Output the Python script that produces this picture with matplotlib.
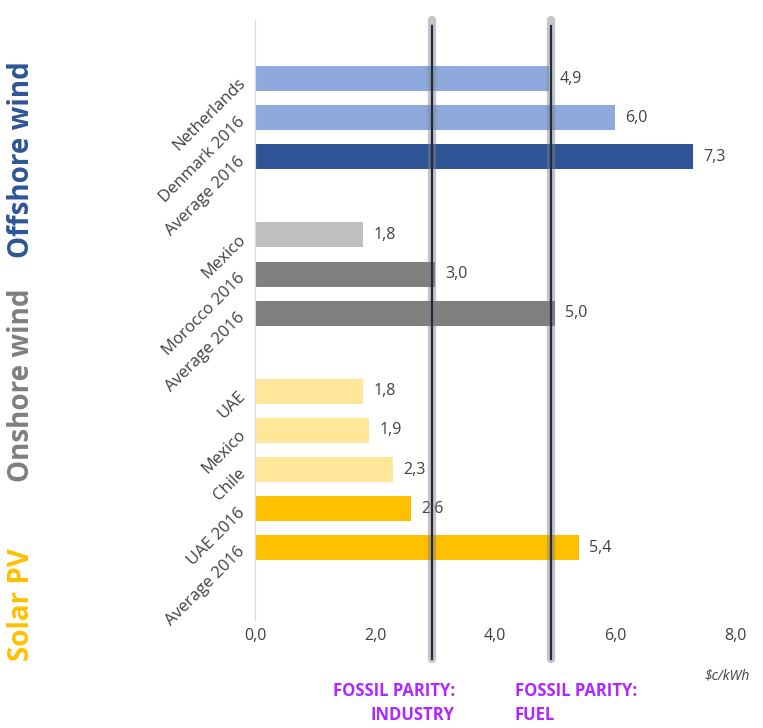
import numpy as np
import matplotlib; matplotlib.use("Agg")
import matplotlib.pyplot as plt
import matplotlib.transforms as mtransforms

plt.rcParams['font.family'] = ['Open Sans', 'DejaVu Sans']

# data
labels = ["Netherlands", "Denmark 2016", "Average 2016",
          "Mexico", "Morocco 2016", "Average 2016",
          "UAE", "Mexico", "Chile", "UAE 2016", "Average 2016"]
values = [4.9, 6.0, 7.3, 1.8, 3.0, 5.0, 1.8, 1.9, 2.3, 2.6, 5.4]
slots = [0, 1, 2, 4, 5, 6, 8, 9, 10, 11, 12]
colors = ["#8EA9DB", "#8EA9DB", "#2F5597",
          "#BFBFBF", "#7F7F7F", "#7F7F7F",
          "#FFE699", "#FFE699", "#FFE699", "#FFC000", "#FFC000"]
groups = ["Offshore wind", "Onshore wind", "Solar PV"]
group_colors = ["#2F5597", "#7F7F7F", "#FFC000"]
group_y = [160, 385, 605]  # pixel centres of group titles
parity = [2.95, 4.93]
xticks = [0, 2, 4, 6, 8]

fig = plt.figure(figsize=(7.63, 7.28), dpi=100)
ax = fig.add_axes([255/763, 1-620/728, 480/763, 600/728])
ax.barh(slots, values, height=0.64, color=colors)
ax.set_ylim(12 + 1.85, -1.5)
ax.set_xlim(0, 8)
for s, v in zip(slots, values):
    ax.text(v + 0.17, s, f"{v:.1f}".replace(".", ","), va="center", ha="left", fontsize=11.5, color="#404040")

ax.set_yticks([])
ax.set_xticks(xticks)
ax.set_xticklabels([f"{t:.1f}".replace(".", ",") for t in xticks], fontsize=11.5, color="#404040")
ax.tick_params(axis="x", length=0, pad=6)
for sp in ["top", "right", "bottom"]:
    ax.spines[sp].set_visible(False)
ax.spines["left"].set_color("#D9D9D9")

for s, lab in zip(slots, labels):
    ax.text(-0.2, s + 0.05, lab, rotation=45, rotation_mode="anchor", ha="right", va="center",
            fontsize=12, color="#404040")

# fossil parity lines
tr = mtransforms.blended_transform_factory(ax.transData, ax.transAxes)
for p in parity:
    ax.plot([p, p], [-0.065, 1.0], transform=tr, color="#808080", lw=6, alpha=0.45, clip_on=False,
            solid_capstyle="round", zorder=3)
    ax.plot([p, p], [-0.065, 0.99], transform=tr, color="#1F2A44", lw=1.6, clip_on=False, zorder=4)

for g, c, y in zip(groups, group_colors, group_y):
    fig.text(22/763, 1 - y/728, g, rotation=90, ha="center", va="center", fontsize=20,
             fontweight="bold", color=c)

purple = "#B026FF"
fig.text(455/763, 1 - 703/728, "FOSSIL PARITY:\nINDUSTRY", ha="right", va="center", fontsize=12,
         fontweight="bold", color=purple, multialignment="right", linespacing=1.4)
fig.text(515/763, 1 - 703/728, "FOSSIL PARITY:\nFUEL", ha="left", va="center", fontsize=12,
         fontweight="bold", color=purple, multialignment="left", linespacing=1.4)
fig.text(727/763, 1 - 676/728, "$c/kWh", ha="center", va="center", fontsize=10, style="italic",
         color="#404040")

fig.savefig("out.png", dpi=100)
